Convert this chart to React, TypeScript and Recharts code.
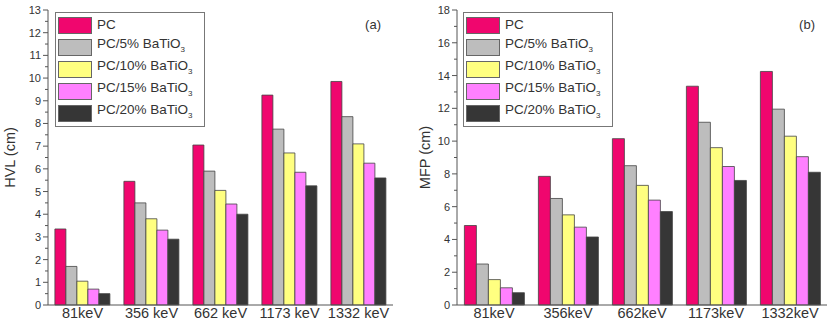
import React from "react";
import { BarChart, Bar, XAxis, YAxis, Legend } from "recharts";

const energiesA = ["81keV", "356 keV", "662 keV", "1173 keV", "1332 keV"];
const energiesB = ["81keV", "356keV", "662keV", "1173keV", "1332keV"];

const seriesNames = ["PC", "PC/5% BaTiO3", "PC/10% BaTiO3", "PC/15% BaTiO3", "PC/20% BaTiO3"];
const seriesKeys = ["pc", "b5", "b10", "b15", "b20"];
const colors = ["#f0066e", "#bdbdbd", "#ffff80", "#ff80ff", "#363636"];

// HVL (cm), panel (a)
const hvlPC = [3.35, 5.45, 7.05, 9.25, 9.85];
const hvl5 = [1.7, 4.5, 5.9, 7.75, 8.3];
const hvl10 = [1.05, 3.8, 5.05, 6.7, 7.1];
const hvl15 = [0.7, 3.3, 4.45, 5.85, 6.25];
const hvl20 = [0.5, 2.9, 4.0, 5.25, 5.6];

// MFP (cm), panel (b)
const mfpPC = [4.85, 7.85, 10.15, 13.35, 14.25];
const mfp5 = [2.5, 6.5, 8.5, 11.15, 11.95];
const mfp10 = [1.55, 5.5, 7.3, 9.6, 10.3];
const mfp15 = [1.05, 4.75, 6.4, 8.45, 9.05];
const mfp20 = [0.75, 4.15, 5.7, 7.6, 8.1];

const hvlTicks = Array.from({ length: 27 }, (_, i) => i * 0.5);
const mfpTicks = Array.from({ length: 19 }, (_, i) => i);

const buildRows = (labels, cols) =>
  labels.map((name, i) => {
    const row = { name };
    seriesKeys.forEach((k, j) => (row[k] = cols[j][i]));
    return row;
  });

const hvlData = buildRows(energiesA, [hvlPC, hvl5, hvl10, hvl15, hvl20]);
const mfpData = buildRows(energiesB, [mfpPC, mfp5, mfp10, mfp15, mfp20]);

const font = "Arial, 'Liberation Sans', sans-serif";
const axisColor = "#555";

const renderName = (v) => {
  if (v.endsWith("BaTiO3")) {
    return (
      <>
        {v.slice(0, -1)}
        <sub style={{ fontSize: 8 }}>3</sub>
      </>
    );
  }
  return v;
};

// keep legend in series order (recharts sorts payload by name)
const LegendBox = ({ payload }) => {
  const items = [...(payload || [])].sort(
    (a, b) => seriesNames.indexOf(a.value) - seriesNames.indexOf(b.value)
  );
  return (
    <div
      style={{
        border: "1px solid #777",
        background: "#fff",
        padding: "1px 2px 2px 2px",
        fontFamily: font,
        fontSize: 13.5,
        color: "#333",
      }}
    >
      {items.map((p) => (
        <div key={p.value} style={{ display: "flex", alignItems: "center", height: 22 }}>
          <span
            style={{
              display: "inline-block",
              width: 32,
              height: 15,
              background: p.color,
              border: "1px solid #666",
              marginRight: 5,
            }}
          />
          <span style={{ whiteSpace: "nowrap", lineHeight: "14px" }}>{renderName(p.value)}</span>
        </div>
      ))}
    </div>
  );
};

const makeTick = (isMajor) => (props) => {
  const { x, y, payload } = props;
  const major = isMajor(payload.value);
  return (
    <g>
      <line x1={x - (major ? 5 : 3)} x2={x} y1={y} y2={y} stroke={axisColor} />
      {major && (
        <text x={x - 7} y={y} dy={4} textAnchor="end" fontSize={11} fill="#333" fontFamily={font}>
          {payload.value}
        </text>
      )}
    </g>
  );
};

const Panel = ({ data, width, yWidth, marginRight, max, ticks, isMajor, yLabel, tag, legendLeft }) => (
  <BarChart
    width={width}
    height={329}
    data={data}
    margin={{ top: 10, right: marginRight, left: 0, bottom: 0 }}
    barGap={0}
    barCategoryGap="10%"
  >
    <XAxis
      dataKey="name"
      height={24}
      tickLine={false}
      tickSize={0}
      tickMargin={3}
      stroke={axisColor}
      tick={{ fontSize: 14.5, fill: "#333", fontFamily: font }}
      interval={0}
    />
    <XAxis xAxisId="top" dataKey="name" orientation="top" height={0} tick={false} tickLine={false} stroke={axisColor} />
    <YAxis
      width={yWidth}
      domain={[0, max]}
      ticks={ticks}
      interval={0}
      tickLine={false}
      tickSize={0}
      tickMargin={0}
      stroke={axisColor}
      tick={makeTick(isMajor)}
      label={{
        value: yLabel,
        angle: -90,
        position: "insideLeft",
        offset: 10,
        style: { textAnchor: "middle", fontSize: 14.5, fill: "#333", fontFamily: font },
      }}
    />
    <YAxis yAxisId="right" orientation="right" width={0} domain={[0, max]} tick={false} tickLine={false} stroke={axisColor} />
    <Legend
      layout="vertical"
      align="center"
      verticalAlign="middle"
      content={LegendBox}
      wrapperStyle={{ left: legendLeft, top: 12, width: 150 }}
    />
    {seriesKeys.map((k, i) => (
      <Bar
        key={k}
        dataKey={k}
        name={seriesNames[i]}
        fill={colors[i]}
        stroke="#444"
        strokeWidth={0.8}
        isAnimationActive={false}
      />
    ))}
    <text x={width - marginRight - 12} y={29} textAnchor="end" fontSize={13} fill="#333" fontFamily={font}>
      {tag}
    </text>
  </BarChart>
);

export default function App() {
  return (
    <div style={{ position: "absolute", left: 0, top: 0, display: "flex", background: "#fff" }}>
      <Panel
        data={hvlData}
        width={415}
        yWidth={48}
        marginRight={22}
        max={13}
        ticks={hvlTicks}
        isMajor={(v) => Number.isInteger(v)}
        yLabel="HVL (cm)"
        tag="(a)"
        legendLeft={55}
      />
      <Panel
        data={mfpData}
        width={414}
        yWidth={42}
        marginRight={2}
        max={18}
        ticks={mfpTicks}
        isMajor={(v) => v % 2 === 0}
        yLabel="MFP (cm)"
        tag="(b)"
        legendLeft={48}
      />
    </div>
  );
}
